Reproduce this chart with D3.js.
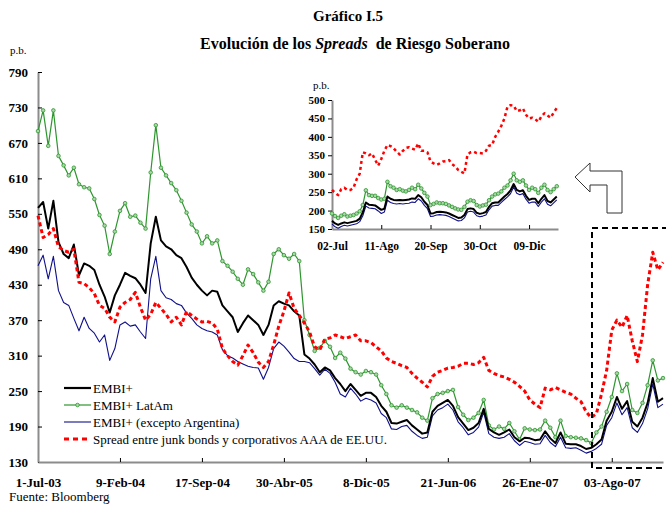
<!DOCTYPE html>
<html><head><meta charset="utf-8">
<script src="https://cdn.jsdelivr.net/npm/d3@7"></script>
<style>
body{margin:0;background:#fff}
svg text{font-family:"Liberation Serif","Times New Roman",serif;fill:#000}
</style>
</head><body>
<svg id="chart" width="666" height="506"></svg>
<script>
// ---------- DATA ----------
const mainTickLabels = ["1-Jul-03","9-Feb-04","17-Sep-04","30-Abr-05","8-Dic-05","21-Jun-06","26-Ene-07","03-Ago-07"];
const mainTickIdx = [0,16,32,48,64,80,96,112];
const mainYTicks = [130,190,250,310,370,430,490,550,610,670,730,790];

const embi = [560,570,525,572,502,482,475,498,446,466,462,455,430,410,383,412,430,450,445,441,430,416,500,545,505,495,490,480,475,460,442,430,420,412,420,418,395,385,375,350,365,378,370,362,345,362,395,402,398,395,385,378,312,305,295,282,290,285,272,262,250,262,252,242,247,247,240,225,215,196,195,198,201,192,185,178,180,215,225,230,235,225,206,195,184,188,196,220,186,180,176,180,185,172,165,171,170,167,168,182,170,162,180,161,160,160,157,152,154,160,168,200,215,240,220,233,198,190,205,230,272,232,238];
const latam = [690,725,665,725,648,632,615,628,600,595,593,575,548,530,482,520,555,568,545,547,535,525,620,700,628,615,602,590,572,552,532,520,500,512,500,505,470,462,452,440,430,456,448,434,420,435,482,490,480,474,482,470,370,345,318,323,335,325,306,315,305,288,282,278,284,282,278,260,245,226,222,226,222,218,214,205,200,238,245,247,250,252,223,210,201,205,213,235,192,185,190,186,196,182,168,187,185,184,185,200,188,172,200,174,172,171,170,167,162,180,190,215,240,280,250,262,218,213,230,260,302,268,272];
const exArg = [462,480,440,478,420,400,395,373,352,375,356,348,333,345,302,322,362,367,360,362,350,339,440,478,420,408,405,398,395,382,373,362,356,352,350,345,320,310,306,300,296,292,290,289,270,290,322,333,326,316,305,300,300,298,288,277,287,280,265,245,240,255,245,233,238,235,230,212,205,186,185,190,192,182,175,170,172,208,218,222,228,218,198,188,176,180,189,214,178,172,170,172,178,166,158,165,163,160,161,175,163,156,172,154,153,154,150,145,148,153,160,192,205,230,210,222,188,180,195,220,262,222,228];
const junk = [547,510,515,525,494,488,485,490,434,432,425,415,395,390,375,367,392,400,405,417,392,370,380,400,390,380,367,375,362,385,378,372,367,368,365,355,322,310,300,294,310,328,315,299,290,300,328,360,385,416,390,378,365,350,325,320,338,340,345,342,339,342,345,335,335,332,325,318,306,300,297,293,290,280,272,265,257,275,282,285,289,290,292,297,297,295,298,307,285,280,276,274,270,265,258,250,235,228,222,255,252,256,252,248,245,238,232,215,205,212,245,285,353,370,358,378,335,300,345,430,485,455,468];

const insetTickLabels = ["02-Jul","11-Ago","20-Sep","30-Oct","09-Dic"];
const insetTickIdx = [0,16,32,48,64];
const insetYTicks = [150,200,250,300,350,400,450,500];

const insEmbi = [172,165,161,165,168,166,168,170,172,178,195,222,216,215,214,208,202,205,238,232,229,228,229,228,229,230,233,232,242,236,224,215,192,193,196,197,196,195,192,188,184,180,181,188,204,206,204,194,191,193,196,210,220,222,222,230,238,245,255,272,256,252,255,240,229,232,232,220,232,242,226,222,230,238];
const insLatam = [192,185,180,186,190,184,186,188,192,198,215,255,242,240,240,234,230,232,278,266,262,256,258,254,252,256,262,258,270,260,248,238,215,218,222,220,220,218,214,210,206,203,202,210,224,228,226,215,211,214,216,228,238,244,246,252,262,268,282,300,282,278,282,268,256,262,258,248,262,270,256,250,258,266];
const insExArg = [164,156,152,157,160,158,160,162,164,170,186,212,207,206,205,199,192,196,228,222,219,218,219,218,219,220,223,222,232,226,214,205,184,185,188,189,188,187,184,180,176,172,173,180,196,198,196,186,183,185,188,202,212,214,214,222,230,237,246,264,247,243,246,231,220,223,223,211,223,232,217,213,221,229];
const insJunk = [256,248,242,258,262,256,256,262,285,300,358,355,350,355,338,322,340,362,378,375,369,360,352,362,370,372,368,365,382,362,362,358,333,328,324,328,333,334,337,326,320,310,305,301,352,358,360,356,356,355,362,376,378,400,414,430,450,482,486,485,470,472,477,460,450,452,448,441,455,464,458,452,466,478];

const seriesNames = ["EMBI+","EMBI+ LatAm","EMBI+ (excepto Argentina)","Spread entre junk bonds y corporativos AAA de EE.UU."];

// ---------- STYLES ----------
const C = {black:"#000000", green:"#2e962e", greenFill:"#a8d8a8", blue:"#10108a", red:"#ff0000", axis:"#8c8c8c"};

const svg = d3.select("#chart");

// Titles
svg.append("text").attr("x",348).attr("y",21).attr("text-anchor","middle")
  .attr("font-size",15).attr("font-weight","bold").text("Gráfico I.5");
const t2 = svg.append("text").attr("x",355).attr("y",49).attr("text-anchor","middle")
  .attr("font-size",16).attr("font-weight","bold");
t2.append("tspan").text("Evolución de los ");
t2.append("tspan").attr("font-style","italic").text("Spreads");
t2.append("tspan").text("\u00A0\u00A0de Riesgo Soberano");
svg.append("text").attr("x",10).attr("y",54).attr("font-size",11).text("p.b.");

// ---------- MAIN CHART ----------
const x = d3.scaleLinear().domain([0,122]).range([38,663]);
const y = d3.scaleLinear().domain([130,790]).range([462,72]);

function styleAxis(g, fs){
  g.select(".domain").attr("stroke",C.axis).attr("stroke-width",2);
  g.selectAll(".tick line").attr("stroke","#000").attr("stroke-width",1);
  g.selectAll(".tick text").attr("font-family","Liberation Serif, serif")
    .attr("font-weight","bold").attr("font-size",fs).attr("fill","#000");
}

const yAx = svg.append("g").attr("transform","translate(38,0)")
  .call(d3.axisLeft(y).tickValues(mainYTicks).tickFormat(d3.format("d"))
    .tickSizeInner(-4).tickSizeOuter(0).tickPadding(10));
styleAxis(yAx,13);

const xAx = svg.append("g").attr("transform","translate(0,462)")
  .call(d3.axisBottom(x).tickValues(mainTickIdx).tickFormat((d,i)=>mainTickLabels[i])
    .tickSizeInner(-4).tickSizeOuter(0).tickPadding(16));
styleAxis(xAx,13);
xAx.selectAll(".tick").filter(d=>d===0).select("line").remove();

function drawSeries(g, xs, ys, data, opt){
  const line = d3.line().x((d,i)=>xs(i)).y(d=>ys(d));
  const p = g.append("path").datum(data).attr("d",line).attr("fill","none")
    .attr("stroke",opt.color).attr("stroke-width",opt.width)
    .attr("stroke-linejoin","round");
  if(opt.dash) p.attr("stroke-dasharray",opt.dash);
  if(opt.markers){
    g.append("g").selectAll("circle").data(data).join("circle")
      .attr("cx",(d,i)=>xs(i)).attr("cy",d=>ys(d)).attr("r",opt.r||1.8)
      .attr("fill",C.greenFill).attr("stroke",opt.color).attr("stroke-width",0.8);
  }
}

const mainG = svg.append("g");
drawSeries(mainG,x,y,latam,{color:C.green,width:1.2,markers:true,r:1.8});
drawSeries(mainG,x,y,exArg,{color:C.blue,width:1.1});
drawSeries(mainG,x,y,embi,{color:C.black,width:2});
drawSeries(mainG,x,y,junk,{color:C.red,width:3,dash:"4,3"});

// Legend
const leg = svg.append("g");
const legY = [388,405,422,439];
const legStyles = [
  {color:C.black,width:2.2},
  {color:C.green,width:1.2,marker:true},
  {color:C.blue,width:1.1},
  {color:C.red,width:3,dash:"5,4"}
];
legY.forEach((ly,i)=>{
  const s = legStyles[i];
  const l = leg.append("line").attr("x1",64).attr("x2",91).attr("y1",ly).attr("y2",ly)
    .attr("stroke",s.color).attr("stroke-width",s.width);
  if(s.dash) l.attr("stroke-dasharray",s.dash);
  if(s.marker) leg.append("circle").attr("cx",77.5).attr("cy",ly).attr("r",1.8)
    .attr("fill",C.greenFill).attr("stroke",s.color).attr("stroke-width",0.8);
  leg.append("text").attr("x",93).attr("y",ly+4.5).attr("font-size",13).text(seriesNames[i]);
});

// Source
svg.append("text").attr("x",9).attr("y",501).attr("font-size",13).text("Fuente: Bloomberg");

// Dashed box
svg.append("rect").attr("x",592).attr("y",228).attr("width",110).attr("height",240)
  .attr("fill","none").attr("stroke","#000").attr("stroke-width",2).attr("stroke-dasharray","6,4");

// Arrow
svg.append("path")
  .attr("d","M575,177 L590,163 L590,171 L622,171 L622,213 L607,213 L607,185 L590,185 L590,192 Z")
  .attr("fill","#fff").attr("stroke","#333").attr("stroke-width",1);

// ---------- INSET ----------
const xi = d3.scaleLinear().domain([0,73.4]).range([332,558]);
const yi = d3.scaleLinear().domain([150,500]).range([229,100]);

svg.append("text").attr("x",313).attr("y",89).attr("font-size",11).text("p.b.");

const yiAx = svg.append("g").attr("transform","translate(332,0)")
  .call(d3.axisLeft(yi).tickValues(insetYTicks).tickFormat(d3.format("d"))
    .tickSizeInner(4).tickSizeOuter(0).tickPadding(3));
styleAxis(yiAx,11);
const xiAx = svg.append("g").attr("transform","translate(0,229)")
  .call(d3.axisBottom(xi).tickValues(insetTickIdx).tickFormat((d,i)=>insetTickLabels[i])
    .tickSizeInner(-4).tickSizeOuter(0).tickPadding(13));
styleAxis(xiAx,11.5);
xiAx.selectAll(".tick").filter(d=>d===0).select("line").remove();

const insG = svg.append("g");
drawSeries(insG,xi,yi,insLatam,{color:C.green,width:1.2,markers:true,r:1.8});
drawSeries(insG,xi,yi,insExArg,{color:C.blue,width:1.1});
drawSeries(insG,xi,yi,insEmbi,{color:C.black,width:2});
drawSeries(insG,xi,yi,insJunk,{color:C.red,width:2.5,dash:"3,3"});
</script>
</body></html>
